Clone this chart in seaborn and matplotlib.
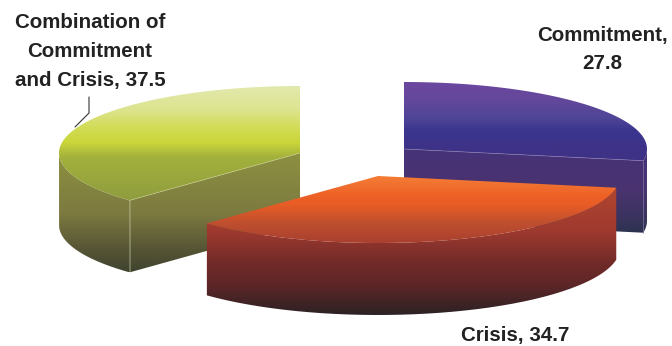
import numpy as np
import pandas as pd
import matplotlib
matplotlib.use("Agg")
import matplotlib.pyplot as plt
from matplotlib.colors import LinearSegmentedColormap
from matplotlib.patches import PathPatch
from matplotlib.path import Path
import seaborn as sns

categories = ["Commitment", "Crisis", "Combination of Commitment and Crisis"]
values = [27.8, 34.7, 37.5]
label_texts = ["Commitment,\n27.8", "Crisis, 34.7", "Combination of\nCommitment\nand Crisis, 37.5"]

sns.set_theme(style="white")
plt.rcParams["font.family"] = ["Liberation Sans", "DejaVu Sans"]

df = pd.DataFrame({"category": categories, "value": values})
df["end"] = df["value"].cumsum() / df["value"].sum() * 2 * np.pi
df["start"] = df["end"].shift(fill_value=0.0)

RY, DEPTH = 67.0, 72.0
radii = [243.0, 242.0, 241.0]
# slice centre after explosion (pixels)
centres = [(404, 149), (378, 176), (300, 153)]
top_grad = [
    [(82, "#6c479f"), (100, "#63489b"), (118, "#4f4597"), (130, "#3b368f"), (150, "#3e3286")],
    [(176, "#f47d36"), (195, "#ee6226"), (205, "#e85c26"), (222, "#c0502e"), (243, "#a93f2f")],
    [(86, "#e2e9ae"), (110, "#dde48f"), (128, "#d2dc56"), (143, "#cbd63a"), (158, "#a3b13c"), (200, "#8f9d3f")],
]
side_grad = [
    [(149, "#463278"), (190, "#4a336f"), (215, "#3c3460"), (232, "#2d3250")],
    [(188, "#b0462f"), (230, "#a03a30"), (265, "#6f2a27"), (285, "#5e2628"), (314, "#2e2224")],
    [(153, "#8d9141"), (215, "#7c7a40"), (250, "#565535"), (272, "#40432e")],
]

fig = plt.figure(figsize=(6.72, 3.46), dpi=100, facecolor="white")
ax = fig.add_axes([0, 0, 1, 1])
ax.set_xlim(0, 672)
ax.set_ylim(346, 0)
ax.axis("off")


def rim(c, rx, a0, a1, dy=0.0, n=120):
    t = np.linspace(a0, a1, n)
    return np.column_stack([c[0] + rx * np.sin(t), c[1] - RY * np.cos(t) + dy])


def fill(poly, stops):
    ys = np.array([s[0] for s in stops], float)
    lo, hi = ys[0], ys[-1]
    cmap = LinearSegmentedColormap.from_list(
        "g", [((y - lo) / (hi - lo), col) for y, col in stops])
    x0, x1 = poly[:, 0].min() - 1, poly[:, 0].max() + 1
    y0, y1 = min(poly[:, 1].min(), lo), max(poly[:, 1].max(), hi)
    arr = np.clip((np.linspace(y0, y1, 256) - lo) / (hi - lo), 0, 1)[:, None]
    im = ax.imshow(arr, cmap=cmap, vmin=0, vmax=1, extent=(x0, x1, y1, y0),
                   aspect="auto", interpolation="bilinear", zorder=z[0])
    patch = PathPatch(Path(np.vstack([poly, poly[:1]])), transform=ax.transData,
                      fc="none", ec="none")
    ax.add_patch(patch)
    im.set_clip_path(patch)
    z[0] += 1
    ax.set_xlim(0, 672)
    ax.set_ylim(346, 0)


z = [1]
for i in [2, 0, 1]:
    c = np.array(centres[i], float)
    rx = radii[i]
    a0, a1 = df.loc[i, "start"], df.loc[i, "end"]
    arc = rim(c, rx, a0, a1)

    # cut face seen from the front
    if i == 0:
        end = arc[-1]
        fill(np.array([c, end, end + [0, DEPTH], c + [0, DEPTH]]), side_grad[i])
    if i == 2:
        start = arc[0]
        fill(np.array([c, start, start + [0, DEPTH], c + [0, DEPTH]]), side_grad[i])

    # curved outer wall, front half only
    lo, hi = max(a0, np.pi / 2), min(a1, 3 * np.pi / 2)
    outer = rim(c, rx, lo, hi)
    fill(np.vstack([outer, outer[::-1] + [0, DEPTH]]), side_grad[i])

    # top face
    fill(np.vstack([c, arc]), top_grad[i])

    # thin highlights along the edges of the faces
    if i == 2:
        ax.plot([c[0], arc[0, 0]], [c[1], arc[0, 1]], color="#c9cf8e", lw=0.5, alpha=0.8, zorder=z[0])
        ax.plot([arc[0, 0]] * 2, [arc[0, 1], arc[0, 1] + DEPTH], color="#aab07a", lw=0.5, alpha=0.7, zorder=z[0])
    if i == 0:
        ax.plot([c[0], arc[-1, 0]], [c[1], arc[-1, 1]], color="#8e7fb5", lw=0.5, alpha=0.8, zorder=z[0])
        ax.plot([arc[-1, 0]] * 2, [arc[-1, 1], arc[-1, 1] + DEPTH], color="#75659f", lw=0.5, alpha=0.8, zorder=z[0])
    z[0] += 1

label_style = dict(ha="center", va="center", fontsize=14.8, fontweight="bold",
                   color="#222222", linespacing=1.66, zorder=50)
ax.text(602, 49.5, label_texts[0], **label_style)
ax.text(515, 335.5, label_texts[1], **label_style)
ax.text(90, 51.5, label_texts[2], **label_style)
ax.plot([89, 89, 75], [97, 113, 127], color="#333333", lw=0.8, zorder=50)

fig.savefig("out.png", dpi=100, facecolor="white")
